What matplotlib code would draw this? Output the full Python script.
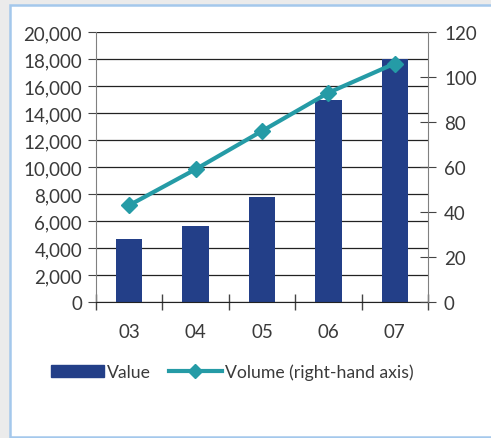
import matplotlib.pyplot as plt
from matplotlib.patches import Rectangle
from matplotlib.lines import Line2D
from matplotlib.ticker import FuncFormatter

# Yearly data
years = ["03", "04", "05", "06", "07"]
value = [4700, 5650, 7800, 15000, 18000]
volume = [43, 59, 76, 93, 106]

bar_color = "#233F88"
line_color = "#259BA6"
text_color = "#3a3a3a"

plt.rcParams["font.family"] = ["Lato", "DejaVu Sans"]
plt.rcParams["font.size"] = 13.5

W, H = 491, 439
fig = plt.figure(figsize=(W / 100, H / 100), dpi=100, facecolor="#EBEBEB")

# white panel with light blue frame, drawn behind the axes
fig.patches.append(Rectangle((10 / W, 1 / H), 1.0, 1 - 7 / H, transform=fig.transFigure,
                             facecolor="white", edgecolor="#A4C8EC", linewidth=1.8, zorder=-5))

ax = fig.add_axes([96 / W, 1 - 303 / H, (428 - 96) / W, (303 - 33) / H])
ax.set_facecolor("none")

x = range(len(years))
ax.bar(x, value, width=0.4, color=bar_color, zorder=2)
ax.set_ylim(0, 20000)
ax.set_xlim(-0.5, len(years) - 0.5)
ax.set_yticks(range(0, 20001, 2000))
ax.yaxis.set_major_formatter(FuncFormatter(lambda v, p: f"{int(v):,}"))
ax.yaxis.grid(True, color="#222222", linewidth=0.9, zorder=1)
ax.set_axisbelow(True)

ax.set_xticks(list(x))
ax.set_xticklabels(years)
ax.set_xticks([i - 0.5 for i in range(len(years) + 1)], minor=True)
ax.tick_params(axis="x", which="major", length=0, pad=15, colors=text_color)
ax.tick_params(axis="x", which="minor", length=12, direction="inout", color="#444444", width=1)
ax.tick_params(axis="y", length=6, direction="out", color="#444444", colors=text_color, pad=4)

for s in ["top", "right"]:
    ax.spines[s].set_visible(False)
ax.spines["left"].set_color("#808080")
ax.spines["bottom"].set_color("#222222")

ax2 = ax.twinx()
ax2.plot(x, volume, color=line_color, linewidth=3.0, marker="D", markersize=8, zorder=3)
ax2.set_ylim(0, 120)
ax2.set_yticks(range(0, 121, 20))
ax2.tick_params(axis="y", length=11, direction="inout", color="#444444", colors=text_color, pad=6)
for s in ["top", "left", "bottom"]:
    ax2.spines[s].set_visible(False)
ax2.spines["right"].set_color("#808080")

handles = [Rectangle((0, 0), 1, 1, color=bar_color),
           Line2D([], [], color=line_color, linewidth=3.0, marker="D", markersize=7)]
fig.legend(handles, ["Value", "Volume (right-hand axis)"], loc="center left",
           bbox_to_anchor=(35 / W, 1 - 373 / H), ncol=2, frameon=False, fontsize=12.7,
           handlelength=3.0, handletextpad=0.2, columnspacing=1.0, labelcolor=text_color)

fig.savefig("out.png", dpi=100, facecolor=fig.get_facecolor())
